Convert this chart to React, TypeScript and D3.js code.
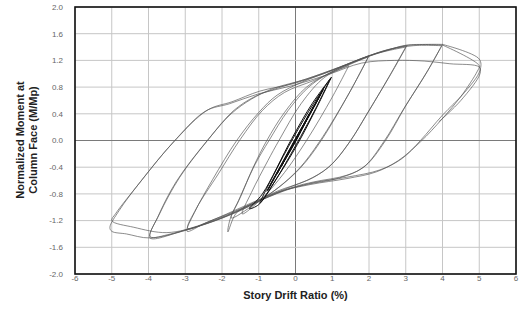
import * as React from 'react';
import * as d3 from 'd3';

type Pt = [number, number];

const xTicks = [-6, -5, -4, -3, -2, -1, 0, 1, 2, 3, 4, 5, 6];
const yTicks = [-2.0, -1.6, -1.2, -0.8, -0.4, 0.0, 0.4, 0.8, 1.2, 1.6, 2.0];

// elastic cycles (dark)
const cycle0375: Pt[] = [[0, 0.0], [0.375, 0.4], [0.3, 0.31], [0, 0.01], [-0.375, -0.38], [-0.3, -0.3], [0, -0.01], [0.375, 0.4]];
const cycle05: Pt[] = [[0, 0.0], [0.5, 0.52], [0.4, 0.41], [0, 0.02], [-0.5, -0.5], [-0.4, -0.4], [0, -0.02], [0.5, 0.52]];
const cycle075a: Pt[] = [[0, 0.0], [0.75, 0.76], [0.6, 0.6], [0, 0.0], [-0.75, -0.74], [-0.6, -0.58], [0, 0.0], [0.75, 0.76]];
const cycle075b: Pt[] = [[0, 0.02], [0.78, 0.8], [0.62, 0.62], [0, 0.03], [-0.78, -0.76], [-0.6, -0.58], [0, 0.02]];
const cycle1a: Pt[] = [[0.98, 0.95], [0.6, 0.52], [0.05, -0.06], [-0.5, -0.56], [-0.97, -0.94], [-0.6, -0.52], [-0.05, 0.05], [0.5, 0.56], [0.98, 0.95]];
const cycle1b: Pt[] = [[0.95, 0.93], [0.55, 0.48], [0.0, -0.08], [-0.55, -0.6], [-1.0, -0.96], [-1.25, -1.02], [-0.9, -0.8], [-0.1, 0.03], [0.45, 0.55], [0.95, 0.93]];

// inelastic cycles (grey)
const cycle15: Pt[] = [[1.45, 1.12], [1.0, 0.65], [0.3, 0.0], [-0.3, -0.48], [-0.9, -0.86], [-1.45, -1.1], [-1.2, -0.78], [-0.75, -0.3], [-0.45, 0.0], [0.15, 0.55], [0.8, 0.95], [1.45, 1.12]];
const cycle2a: Pt[] = [[2.0, 1.27], [1.5, 0.75], [0.7, 0.0], [0.15, -0.4], [-0.45, -0.7], [-1.0, -0.9], [-1.6, -1.08], [-1.84, -1.37], [-1.78, -1.18], [-1.5, -0.85], [-1.15, -0.4], [-0.78, 0.0], [-0.3, 0.42], [0.3, 0.8], [1.0, 1.03], [1.6, 1.18], [2.0, 1.27]];
const cycle2b: Pt[] = [[1.98, 1.25], [1.45, 0.7], [0.65, -0.02], [0.1, -0.42], [-0.5, -0.72], [-1.1, -0.95], [-1.75, -1.16], [-1.55, -0.9], [-1.1, -0.36], [-0.72, 0.0], [-0.2, 0.45], [0.4, 0.82], [1.1, 1.06], [1.98, 1.25]];
const cycle3a: Pt[] = [[3.03, 1.42], [2.6, 1.0], [2.0, 0.45], [1.5, 0.0], [1.0, -0.35], [0.5, -0.55], [-0.07, -0.68], [-0.97, -0.88], [-1.87, -1.1], [-2.5, -1.25], [-2.95, -1.36], [-2.75, -1.08], [-2.25, -0.58], [-1.6, 0.0], [-1.0, 0.42], [-0.5, 0.68], [0.2, 0.88], [1.0, 1.05], [2.0, 1.27], [2.5, 1.36], [3.03, 1.42]];
const cycle3b: Pt[] = [[3.0, 1.4], [2.55, 0.96], [1.95, 0.4], [1.45, -0.04], [0.9, -0.4], [0.3, -0.6], [-0.5, -0.76], [-1.4, -1.0], [-2.3, -1.2], [-2.93, -1.32], [-2.7, -1.02], [-2.1, -0.5], [-1.5, 0.02], [-0.9, 0.45], [-0.3, 0.72], [0.5, 0.9], [1.4, 1.12], [2.2, 1.3], [3.0, 1.4]];
const cycle4a: Pt[] = [[4.0, 1.44], [3.6, 1.05], [3.0, 0.52], [2.45, 0.0], [1.9, -0.38], [1.4, -0.52], [0.5, -0.62], [-0.07, -0.7], [-0.97, -0.9], [-1.87, -1.12], [-2.95, -1.33], [-3.96, -1.46], [-3.75, -1.15], [-3.25, -0.62], [-2.4, 0.0], [-1.75, 0.4], [-1.2, 0.62], [-0.6, 0.78], [0.3, 0.92], [1.2, 1.1], [2.0, 1.27], [3.0, 1.42], [4.0, 1.44]];
const cycle4b: Pt[] = [[3.98, 1.42], [3.55, 1.0], [2.95, 0.48], [2.4, -0.02], [1.85, -0.4], [1.2, -0.56], [0.3, -0.66], [-0.5, -0.78], [-1.4, -1.02], [-2.4, -1.24], [-3.4, -1.4], [-3.95, -1.44], [-3.7, -1.1], [-3.15, -0.55], [-2.35, 0.03], [-1.7, 0.44], [-1.1, 0.66], [-0.4, 0.8], [0.5, 0.96], [1.5, 1.16], [2.4, 1.34], [3.2, 1.42], [3.98, 1.42]];
const cycle5a: Pt[] = [[4.0, 1.44], [5.0, 1.22], [5.02, 1.05], [4.6, 0.72], [4.0, 0.38], [3.4, 0.0], [2.9, -0.27], [2.3, -0.44], [1.4, -0.55], [0.5, -0.63], [-0.07, -0.71], [-0.97, -0.9], [-1.87, -1.13], [-2.95, -1.34], [-3.96, -1.46], [-4.6, -1.4], [-5.0, -1.36], [-5.05, -1.3], [-4.8, -1.05], [-4.18, -0.59], [-3.28, 0.0], [-2.38, 0.46], [-1.73, 0.58], [-0.97, 0.74], [-0.07, 0.85], [0.86, 1.02], [1.76, 1.22], [2.5, 1.35], [3.03, 1.43], [4.0, 1.43]];
const cycle5b: Pt[] = [[4.0, 1.43], [5.0, 1.12], [4.95, 1.04], [4.5, 0.66], [4.0, 0.33], [3.4, -0.02], [2.8, -0.3], [2.2, -0.47], [1.4, -0.57], [0.4, -0.66], [-0.5, -0.78], [-1.5, -1.05], [-2.5, -1.26], [-3.5, -1.38], [-4.4, -1.3], [-5.0, -1.2], [-4.9, -1.1], [-4.25, -0.64], [-3.35, -0.04], [-2.45, 0.44], [-1.8, 0.55], [-1.0, 0.7], [-0.1, 0.82], [0.9, 0.99], [1.8, 1.16], [2.7, 1.2], [3.5, 1.19], [4.2, 1.15], [5.0, 1.1], [5.02, 1.0], [4.5, 0.6], [3.9, 0.28]];

const darkCycles = [cycle0375, cycle05, cycle075a, cycle075b, cycle1a, cycle1b];
const greyCycles = [cycle15, cycle2a, cycle2b, cycle3a, cycle3b, cycle4a, cycle4b, cycle5a, cycle5b];

const W = 519;
const H = 313;

const App: React.FunctionComponent = () => {
    const x = d3.scaleLinear().domain([-6, 6]).range([75, 516]);
    const y = d3.scaleLinear().domain([-2, 2]).range([274, 7]);
    const line = d3.line<Pt>()
        .x(d => x(d[0]))
        .y(d => y(d[1]))
        .curve(d3.curveCatmullRom.alpha(0.5));
    const font = '"Liberation Sans", Arial, sans-serif';

    return (
        <svg width={W} height={H} style={{ position: 'absolute', left: 0, top: 0, background: '#fff' }}>
            <rect x={0} y={0} width={W} height={H} fill="#fff" />
            {xTicks.map(t => (
                <line key={'gx' + t} x1={x(t)} x2={x(t)} y1={y(2)} y2={y(-2)}
                    stroke={t === 0 ? '#7a7a7a' : '#c6c6c6'} strokeWidth={1} />
            ))}
            {yTicks.map(t => (
                <line key={'gy' + t} x1={x(-6)} x2={x(6)} y1={y(t)} y2={y(t)}
                    stroke={t === 0 ? '#7a7a7a' : '#c6c6c6'} strokeWidth={1} />
            ))}
            {greyCycles.map((c, i) => (
                <path key={'g' + i} d={line(c) as string} fill="none" stroke="#555" strokeWidth={0.85} strokeOpacity={0.8} />
            ))}
            {darkCycles.map((c, i) => (
                <path key={'d' + i} d={line(c) as string} fill="none" stroke="#111" strokeWidth={1} />
            ))}
            <rect x={x(-6)} y={y(2)} width={x(6) - x(-6)} height={y(-2) - y(2)} fill="none" stroke="#111" strokeWidth={1.6} />
            {yTicks.map(t => (
                <text key={'ty' + t} x={63} y={y(t)} dy="0.35em" textAnchor="end" fontSize={8} fill="#666" fontFamily={font}>
                    {t.toFixed(1)}
                </text>
            ))}
            {xTicks.map(t => (
                <text key={'tx' + t} x={x(t)} y={281} textAnchor="middle" fontSize={8} fill="#666" fontFamily={font}>
                    {t}
                </text>
            ))}
            <text x={x(0)} y={299} textAnchor="middle" fontSize={11} fontWeight="bold" fill="#222" fontFamily={font}>
                Story Drift Ratio (%)
            </text>
            <text transform="translate(24,140) rotate(-90)" textAnchor="middle" fontSize={11} fontWeight="bold" fill="#222" fontFamily={font}>
                Normalized Moment at
            </text>
            <text transform="translate(37,140) rotate(-90)" textAnchor="middle" fontSize={11} fontWeight="bold" fill="#222" fontFamily={font}>
                Column Face (M/Mp)
            </text>
        </svg>
    );
};

export default App;
